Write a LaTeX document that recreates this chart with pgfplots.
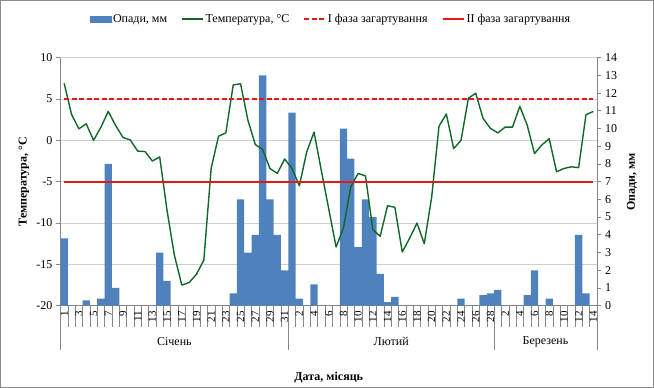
\documentclass[border=0pt]{standalone}
\usepackage{fontspec}
\setmainfont{Liberation Serif}
\usepackage{pgfplots}
\usepackage{pgfplotstable}
\pgfplotsset{compat=1.18}

\definecolor{barblue}{RGB}{79,129,189}
\definecolor{tempgreen}{RGB}{16,104,40}
\definecolor{phasered}{RGB}{228,24,24}
\definecolor{axisgray}{RGB}{134,134,134}
\definecolor{gridgray}{RGB}{206,206,206}
\definecolor{framegray}{RGB}{140,140,140}

% day index (0 = 1 January), air temperature (deg C), precipitation (mm)
\pgfplotstableread{
idx T P
0 6.9 3.8
1 3.15 0
2 1.4 0
3 2.0 0.3
4 0.0 0
5 1.6 0.4
6 3.5 8.0
7 1.8 1.0
8 0.35 0
9 0.05 0
10 -1.3 0
11 -1.35 0
12 -2.5 0
13 -2.0 3.0
14 -8.5 1.4
15 -13.9 0
16 -17.5 0
17 -17.2 0
18 -16.2 0
19 -14.5 0
20 -3.4 0
21 0.5 0
22 0.9 0
23 6.7 0.7
24 6.85 6.0
25 2.45 3.0
26 -0.5 4.0
27 -1.1 13.0
28 -3.4 6.0
29 -4.0 4.0
30 -2.25 2.0
31 -3.4 10.9
32 -5.5 0.4
33 -1.4 0
34 1.0 1.2
35 -3.7 0
36 -8.3 0
37 -12.9 0
38 -10.6 10.0
39 -5.6 8.3
40 -4.0 3.3
41 -4.3 6.0
42 -10.8 5.0
43 -11.6 1.8
44 -7.9 0.2
45 -8.1 0.5
46 -13.5 0
47 -11.85 0
48 -10.0 0
49 -12.5 0
50 -6.9 0
51 1.7 0
52 3.2 0
53 -1.0 0
54 0.0 0.4
55 5.1 0
56 5.7 0
57 2.65 0.6
58 1.45 0.7
59 0.9 0.9
60 1.6 0
61 1.6 0
62 4.1 0
63 1.85 0.6
64 -1.6 2.0
65 -0.55 0
66 0.2 0.4
67 -3.8 0
68 -3.4 0
69 -3.2 0
70 -3.3 4.0
71 3.1 0.7
72 3.5 0
}\weather

% hardening thresholds, deg C
\pgfplotstableread{
idx first second
0 5 -5
72 5 -5
}\phases

\pgfplotsset{
  chartbox/.style={
    at={(60.5pt,82.3pt)}, anchor=south west,
    scale only axis, width=536.5pt, height=248pt,
    xmin=-0.5, xmax=72.5,
  },
}

\begin{document}
\fontsize{12pt}{14pt}\selectfont
\begin{tikzpicture}
\useasboundingbox (0,0) rectangle (654pt,388pt);
\draw[framegray, line width=1pt] (0.5pt,0.5pt) rectangle (653.5pt,387.5pt);

% temperature scale: grid, left axis, day labels, month groups
\begin{axis}[chartbox, ymin=-20, ymax=10,
  axis x line*=bottom, axis y line*=left,
  axis line style={axisgray, line width=0.8pt},
  ytick={-20,-15,-10,-5,0,5,10},
  yticklabels={-20,-15,-10,-5,0,5,10},
  ymajorgrids, grid style={gridgray, line width=0.8pt},
  xtick={0,2,...,72},
  xticklabels={1,3,5,7,9,11,13,15,17,19,21,23,25,27,29,31,2,4,6,8,10,12,14,16,18,20,22,24,26,28,2,4,6,8,10,12,14},
  minor xtick={-0.5,0.5,...,72.5},
  tick align=outside,
  major x tick style={draw=none},
  minor x tick style={axisgray, line width=0.5pt},
  minor tick length=21pt,
  major tick length=4pt,
  y tick style={axisgray, line width=0.8pt},
  xticklabel style={rotate=90, anchor=east, inner sep=1.5pt, font=\fontsize{11pt}{12pt}\selectfont},
  ylabel={Температура, °С},
  ylabel style={font=\bfseries, at={(axis description cs:-0.068,0.5)}, anchor=center},
  xlabel={Дата, місяць},
  xlabel style={font=\bfseries, at={(axis description cs:0.5,-0.2915)}, anchor=center},
  clip=false,
]
\draw[axisgray, line width=0.5pt] (axis cs:-0.5,-20) -- ++(0pt,-44pt);
\draw[axisgray, line width=0.5pt] (axis cs:30.5,-20) -- ++(0pt,-44pt);
\draw[axisgray, line width=0.5pt] (axis cs:58.5,-20) -- ++(0pt,-44pt);
\draw[axisgray, line width=0.5pt] (axis cs:72.5,-20) -- ++(0pt,-44pt);
\node at ([yshift=-36pt]axis cs:15,-20) {Січень};
\node at ([yshift=-36pt]axis cs:44.5,-20) {Лютий};
\node at ([yshift=-36pt]axis cs:65.5,-20) {Березень};
\end{axis}

% precipitation bars on the secondary axis
\begin{axis}[chartbox, ymin=0, ymax=14,
  axis y line*=right, axis x line=none,
  axis line style={axisgray, line width=0.8pt},
  ytick={0,1,2,3,4,5,6,7,8,9,10,11,12,13,14},
  yticklabels={0,1,2,3,4,5,6,7,8,9,10,11,12,13,14},
  tick align=outside, major tick length=4pt,
  y tick style={axisgray, line width=0.8pt},
  ylabel={Опади, мм},
  ylabel style={font=\bfseries, at={(axis description cs:1.065,0.5)}, anchor=center},
]
\addplot[ybar, bar width=1, fill=barblue, draw=none] table[x=idx, y=P] {\weather};
\end{axis}

% temperature curve and hardening thresholds
\begin{axis}[chartbox, ymin=-20, ymax=10, hide axis,
  legend columns=4,
  legend style={at={(0.504,1.156)}, anchor=center, draw=none, fill=none,
    /tikz/every even column/.append style={column sep=12pt}},
  legend image code/.code={\draw[#1] (0pt,0pt) -- (21pt,0pt);},
]
\addlegendimage{legend image code/.code={\fill[barblue] (0pt,-3pt) rectangle (21pt,3pt);}}
\addlegendentry{Опади, мм}
\addplot[draw=tempgreen, line width=1.4pt, line join=round] table[x=idx, y=T] {\weather};
\addlegendentry{Температура, °С}
\addplot[draw=phasered, line width=1.6pt, dash pattern=on 5pt off 2.5pt] table[x=idx, y=first] {\phases};
\addlegendentry{I фаза загартування}
\addplot[draw=phasered, line width=2pt, dash pattern=on 800pt off 0pt] table[x=idx, y=second] {\phases};
\addlegendentry{II фаза загартування}
\end{axis}
\end{tikzpicture}
\end{document}
